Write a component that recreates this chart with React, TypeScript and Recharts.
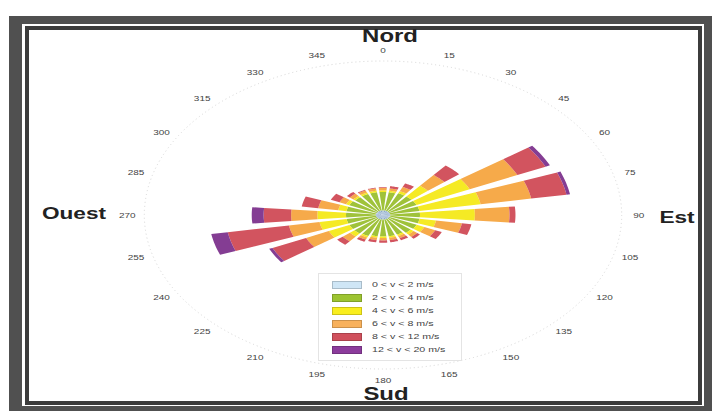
import React from 'react';
import { RadialBarChart, RadialBar, PolarAngleAxis, PolarRadiusAxis, Legend } from 'recharts';

// Directions (degrees) and wind-speed class frequencies (%)
const directions = ['0', '15', '30', '45', '60', '75', '90', '105', '120', '135', '150', '165', '180', '195', '210', '225', '240', '255', '270', '285', '300', '315', '330', '345'];
const speed0to2 = [0.6, 0.6, 0.6, 0.6, 0.6, 0.6, 0.6, 0.6, 0.6, 0.6, 0.6, 0.6, 0.6, 0.6, 0.6, 0.6, 0.6, 0.6, 0.6, 0.6, 0.6, 0.6, 0.6, 0.6];
const speed2to4 = [2.4, 2.4, 2.5, 2.5, 2.5, 2.5, 2.5, 2.5, 2.5, 2.4, 2.2, 2.2, 2.2, 2.2, 2.4, 2.5, 2.5, 2.5, 2.5, 2.5, 2.5, 2.4, 2.4, 2.4];
const speed4to6 = [0.2, 0.2, 0.3, 1.8, 4.9, 5.2, 4.6, 1.4, 0.7, 0.3, 0.2, 0.2, 0.2, 0.2, 0.2, 0.5, 1.9, 2.3, 2.4, 0.7, 0.3, 0.2, 0.2, 0.2];
const speed6to8 = [0.3, 0.3, 0.6, 1.8, 4.4, 4.3, 2.9, 2.2, 1.0, 0.4, 0.3, 0.3, 0.3, 0.3, 0.3, 0.8, 2.1, 2.6, 2.2, 1.7, 0.6, 0.4, 0.3, 0.3];
const speed8to12 = [0.1, 0.3, 0.5, 1.6, 2.6, 3.0, 0.5, 0.8, 0.6, 0.3, 0.3, 0.3, 0.3, 0.3, 0.3, 0.6, 3.1, 5.2, 2.3, 1.4, 0.8, 0.3, 0.1, 0.1];
const speed12to20 = [0, 0, 0, 0, 0.4, 0.3, 0, 0, 0, 0, 0, 0, 0, 0, 0, 0, 0.3, 1.4, 1.0, 0, 0, 0, 0, 0];

const seriesKeys = ['s1', 's2', 's3', 's4', 's5', 's6'];
const seriesNames = ['0 < v < 2 m/s', '2 < v < 4 m/s', '4 < v < 6 m/s', '6 < v < 8 m/s', '8 < v < 12 m/s', '12 < v < 20 m/s'];
const seriesColors = ['#88a7c8', '#9fc23a', '#f5ea24', '#f6aa4a', '#d2545f', '#843d93'];
const legendColors = ['#cfe6f6', '#9dc431', '#f9ee1e', '#f8b15c', '#d0505c', '#8c3c9c'];

const data = directions.map((d, i) => ({
  dir: d,
  s1: speed0to2[i],
  s2: speed2to4[i],
  s3: speed4to6[i],
  s4: speed6to8[i],
  s5: speed8to12[i],
  s6: speed12to20[i],
}));

const SX = 1.55; // horizontal stretch of the rose (elliptical)
const TX = 1.33; // horizontal stretch of the text
const RAD = Math.PI / 180;
const FONT = 'Liberation Sans, Arial, sans-serif';
const HALF_BAND = 360 / directions.length / 2;

function ellPt(cx: number, cy: number, r: number, a: number): [number, number] {
  return [cx + Math.cos(-a * RAD) * r * SX, cy + Math.sin(-a * RAD) * r];
}

function WedgeShape(props: any) {
  const { cx, cy, innerRadius, outerRadius, startAngle, endAngle, fill } = props;
  if (!(outerRadius - innerRadius > 0.05)) return <g />;
  const steps = 8;
  let d = '';
  for (let i = 0; i <= steps; i++) {
    const a = startAngle + ((endAngle - startAngle) * i) / steps;
    const [x, y] = ellPt(cx, cy, outerRadius, a);
    d += (i === 0 ? 'M' : 'L') + x.toFixed(2) + ',' + y.toFixed(2);
  }
  for (let i = steps; i >= 0; i--) {
    const a = startAngle + ((endAngle - startAngle) * i) / steps;
    const [x, y] = ellPt(cx, cy, innerRadius, a);
    d += 'L' + x.toFixed(2) + ',' + y.toFixed(2);
  }
  d += 'Z';
  return <path d={d} fill={fill} stroke="none" />;
}

function AngleTick(props: any) {
  const { payload, index } = props;
  const cx = props.cx ?? 383;
  const cy = props.cy ?? 215;
  const radius = props.radius ?? 154;
  // tick coordinate is the band start; centre it on the band
  const a = payload.coordinate + HALF_BAND;
  const [x, y] = ellPt(cx, cy, radius + 11, a);
  return (
    <g>
      {index === 0 && (
        <ellipse cx={cx} cy={cy} rx={radius * SX} ry={radius} fill="none" stroke="#d6d6d6" strokeWidth={1} strokeDasharray="1 3" />
      )}
      <text
        transform={`translate(${x.toFixed(2)},${y.toFixed(2)}) scale(${TX},1)`}
        x={0}
        y={0}
        textAnchor="middle"
        dominantBaseline="central"
        fontSize={7.5}
        fill="#444"
        fontFamily={FONT}
      >
        {payload.value}
      </text>
    </g>
  );
}

function LegendBox() {
  return (
    <div
      style={{
        border: '1px solid #e4e4e4',
        background: '#fff',
        padding: '4px 0 4px 13px',
        width: 144,
        boxSizing: 'border-box',
        fontFamily: FONT,
        fontSize: 8,
        color: '#444',
      }}
    >
      {seriesNames.map((n, i) => (
        <div key={n} style={{ display: 'flex', alignItems: 'center', height: 13, whiteSpace: 'nowrap' }}>
          <span
            style={{
              display: 'inline-block',
              width: 30,
              height: 8,
              background: legendColors[i],
              border: '1px solid rgba(0,0,0,0.18)',
              boxSizing: 'border-box',
              marginRight: 10,
              flex: 'none',
            }}
          />
          <span style={{ display: 'inline-block', transform: `scaleX(${TX})`, transformOrigin: 'left center' }}>{n}</span>
        </div>
      ))}
    </div>
  );
}

function CompassWord({ x, y, text, size }: { x: number; y: number; text: string; size: number }) {
  return (
    <text
      transform={`translate(${x},${y}) scale(${TX},1)`}
      x={0}
      y={0}
      textAnchor="middle"
      fontSize={size}
      fontWeight="bold"
      fill="#222"
      fontFamily={FONT}
    >
      {text}
    </text>
  );
}

export default function App() {
  return (
    <div style={{ position: 'absolute', left: 0, top: 0, width: 714, height: 411, background: '#fff', overflow: 'hidden' }}>
      <svg width={714} height={411} style={{ position: 'absolute', left: 0, top: 0 }}>
        <rect x={9} y={16} width={703} height={395} fill="#505050" />
        <rect x={22} y={24} width={682} height={382} fill="#fff" />
        <rect x={27} y={28} width={673} height={375} fill="#fff" stroke="#3c3c3c" strokeWidth={4} />
        <CompassWord x={390} y={42} text="Nord" size={18} />
        <CompassWord x={386} y={400} text="Sud" size={18} />
        <CompassWord x={74} y={219} text="Ouest" size={17} />
        <CompassWord x={677} y={223} text="Est" size={17} />
      </svg>
      <div style={{ position: 'absolute', left: 0, top: 0 }}>
        <RadialBarChart
          width={714}
          height={411}
          data={data}
          layout="centric"
          cx={383}
          cy={215}
          innerRadius={0}
          outerRadius={154}
          startAngle={82.5}
          endAngle={-277.5}
          barCategoryGap="15%"
          margin={{ top: 0, right: 0, bottom: 0, left: 0 }}
        >
          <PolarAngleAxis dataKey="dir" type="category" tick={AngleTick} axisLine={false} tickLine={false} />
          <PolarRadiusAxis type="number" domain={[0, 20]} tick={false} axisLine={false} />
          {seriesKeys.map((k, i) => (
            <RadialBar
              key={k}
              dataKey={k}
              name={seriesNames[i]}
              stackId="wind"
              fill={seriesColors[i]}
              shape={WedgeShape}
              isAnimationActive={false}
            />
          ))}
          <Legend
            content={() => <LegendBox />}
            wrapperStyle={{ position: 'absolute', left: 318, top: 273, width: 144, height: 88 }}
          />
        </RadialBarChart>
      </div>
    </div>
  );
}
